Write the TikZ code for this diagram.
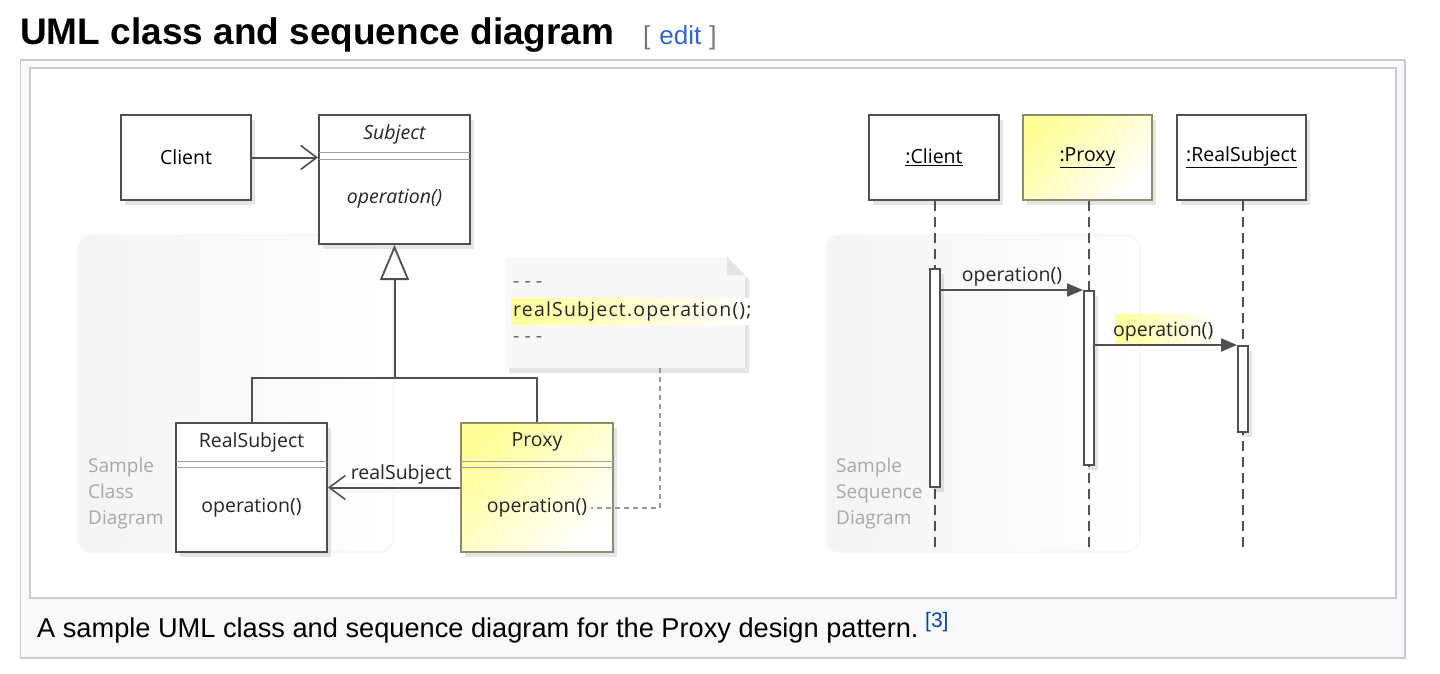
\documentclass[tikz,border=0pt]{standalone}
\usepackage{fontspec}
\setmainfont{Liberation Sans}
\newfontfamily\dfont{Open Sans}
\usetikzlibrary{arrows.meta,shadows,calc}
\definecolor{wborder}{HTML}{C8CCD1}
\definecolor{wbg}{HTML}{F8F9FA}
\definecolor{wlink}{HTML}{3366CC}
\definecolor{reflink}{HTML}{0645AD}
\definecolor{brk}{HTML}{72777D}
\definecolor{ln}{HTML}{505050}
\definecolor{dbl}{HTML}{A0A0A0}
\definecolor{yel}{HTML}{FFFF99}
\definecolor{pborder}{HTML}{8C8C6E}
\definecolor{panel}{HTML}{F4F4F4}
\definecolor{paneltxt}{HTML}{A8A8A8}
\definecolor{notefill}{HTML}{F8F8F8}
\definecolor{notefold}{HTML}{E4E4E4}
\tikzset{
  shd/.style={drop shadow={shadow xshift=4pt, shadow yshift=-5pt, opacity=0.10, fill=black}},
  clsbox/.style={draw=ln, line width=2, fill=white, shd, inner sep=0},
  proxbox/.style={draw=pborder, line width=2, top color=yel, bottom color=white, shading angle=45, shd, inner sep=0},
  lbl/.style={inner sep=0, text=black!85},
  dblline/.style={draw=dbl, line width=1},
  conn/.style={draw=ln, line width=2},
  barb/.style={-{Straight Barb[length=16pt, width=24pt, line width=1.6pt]}},
  genarrow/.style={-{Triangle[open, length=35pt, width=29pt, line width=1.8pt, fill=white]}},
  lifeline/.style={draw=ln, line width=2, dash pattern=on 10pt off 6pt},
  act/.style={draw=ln, line width=2, fill=white, minimum width=10, inner sep=0, shd},
  msg/.style={draw=ln, line width=2, -{Triangle[length=16pt, width=13pt]}},
  hl/.style={left color=yel, right color=white, inner sep=2pt},
  paneltext/.style={inner sep=0, text=paneltxt, align=left, anchor=north west, font=\dfont\fontsize{19}{26}\selectfont},
  panelbox/.style={left color=panel, right color=white, draw=black!3, line width=2, rounded corners=14},
}
\begin{document}
\begin{tikzpicture}[x=1pt, y=-1pt, font=\dfont\fontsize{19.5}{24}\selectfont]
\useasboundingbox (0,0) rectangle (1440,674);
\fill[white] (0,0) rectangle (1440,674);

% title
\node[anchor=base west, inner sep=0, font=\rmfamily\bfseries\fontsize{37}{42}\selectfont] (title) at (20,45) {UML class and sequence diagram};
\node[anchor=base west, inner sep=0, font=\rmfamily\fontsize{26}{30}\selectfont] (edit) at (643,45) {\textcolor{brk}{[}\hspace{9pt}\textcolor{wlink}{edit}\hspace{8pt}\textcolor{brk}{]}};

% frame
\draw[wborder, fill=wbg, line width=1.5] (20.5,60) rectangle (1405,658);
\draw[wborder, fill=white, line width=2] (30,68) rectangle (1396,598);

% caption
\node[anchor=base west, inner sep=0, font=\rmfamily\fontsize{27.2}{31}\selectfont] (cap) at (37,637) {A sample UML class and sequence diagram for the Proxy design pattern.};
\node[anchor=base west, inner sep=0, font=\rmfamily\fontsize{21}{24}\selectfont, text=reflink] (ref) at (925,627) {[3]};

% ---------- class diagram ----------
\path[panelbox] (78,235) rectangle (393,552);
\node[paneltext] (cpl) at (88,458) {Sample\\Class\\Diagram};

% note
\fill[notefill, shd] (505,257) -- (727,257) -- (745,275) -- (745,368) -- (505,368) -- cycle;
\fill[notefold] (727,257) -- (745,275) -- (727,275) -- cycle;
\node[hl, anchor=west, minimum height=26, minimum width=238] (hlbox) at (511,311) {};
\node[lbl, anchor=west, text=black!60] (n1) at (513,285) {- - -};
\node[lbl, anchor=west, font=\dfont\fontsize{19.5}{24}\selectfont\addfontfeature{LetterSpace=6}] (n2) at (513,311) {realSubject.operation();};
\node[lbl, anchor=west, text=black!60] (n3) at (513,340) {- - -};
\coordinate (notebot) at (660,368);

\node[clsbox, minimum width=130, minimum height=85] (client) at (186,157.5) {Client};
\node[clsbox, minimum width=151, minimum height=129] (subj) at (394.5,179.5) {};
\node[lbl] (subjn) at (394.5,134) {\itshape Subject};
\node[lbl] (subjo) at (394.5,199) {\itshape operation()};
\draw[dblline] ($(subj.north west)+(1,39)$) -- ($(subj.north east)+(-1,39)$);
\draw[dblline] ($(subj.north west)+(1,45)$) -- ($(subj.north east)+(-1,45)$);

\node[clsbox, minimum width=151, minimum height=129] (rs) at (251.5,487.5) {};
\node[lbl] (rsn) at (251.5,442) {RealSubject};
\node[lbl] (rso) at (251.5,508) {operation()};
\draw[dblline] ($(rs.north west)+(1,39)$) -- ($(rs.north east)+(-1,39)$);
\draw[dblline] ($(rs.north west)+(1,45)$) -- ($(rs.north east)+(-1,45)$);

\node[proxbox, minimum width=152, minimum height=129] (px) at (537,487.5) {};
\node[lbl] (pxn) at (537,442) {Proxy};
\node[lbl] (pxo) at (537,508) {operation()};
\draw[dblline] ($(px.north west)+(1,39)$) -- ($(px.north east)+(-1,39)$);
\draw[dblline] ($(px.north west)+(1,45)$) -- ($(px.north east)+(-1,45)$);

% connectors
\draw[conn, barb] (client.east) -- (subj.west |- client.east);
\coordinate (j) at (394.5,378);
\draw[conn] (rs.north) |- (j) -| (px.north);
\draw[conn, genarrow] (j) -- (subj.south);
\draw[conn, barb] (px.west) -- (rs.east) node[pos=0.04, anchor=south east, inner sep=2pt, text=black!85] {realSubject};
\draw[draw=black!40, line width=1.2, dash pattern=on 5pt off 4pt] (notebot) |- ($(pxo.east)+(4,0)$);

% ---------- sequence diagram ----------
\path[panelbox] (826,235) rectangle (1140,552);
\node[paneltext] (spl) at (836,458) {Sample\\Sequence\\Diagram};

\node[clsbox, minimum width=130, minimum height=85] (lc) at (934,157.5) {\underline{:Client}};
\node[proxbox, minimum width=129, minimum height=85] (lp) at (1087.5,157.5) {\underline{:Proxy}};
\node[clsbox, minimum width=129, minimum height=85] (lr) at (1241.5,157.5) {\underline{:RealSubject}};

\coordinate (ce) at (935,552);
\coordinate (pe) at (1089,552);
\coordinate (re) at (1243,552);
\draw[lifeline] (lc.south -| ce) -- (ce);
\draw[lifeline] (lp.south -| pe) -- (pe);
\draw[lifeline] (lr.south -| re) -- (re);

\node[act, minimum height=218] (ca) at (935,378) {};
\node[act, minimum height=174] (pa) at (1089,378) {};
\node[act, minimum height=86] (ra) at (1243,389) {};

\draw[msg] (ca.east |- pa.north west) -- (pa.north west) node[midway, above=3pt, inner sep=0, text=black!85] {operation()};
\node[hl, anchor=south west, inner sep=0, minimum height=30, minimum width=104] (hl2) at (1115,345) {};
\draw[msg] (pa.east |- ra.north west) -- (ra.north west) node[pos=0.48, above=3pt, inner sep=0, text=black!85] {operation()};
\end{tikzpicture}
\end{document}
